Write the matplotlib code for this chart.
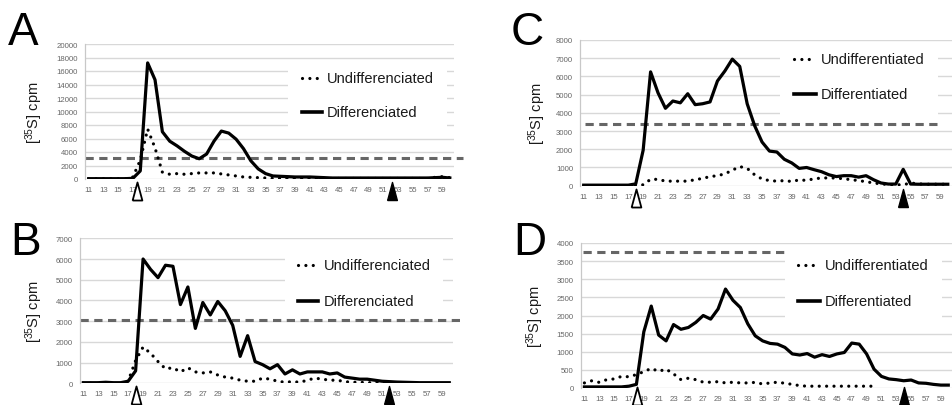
"""Four-panel [35S] cpm fraction profiles (A-D)."""

import matplotlib

matplotlib.use("Agg")
import matplotlib.pyplot as plt  # noqa: E402
from matplotlib.patches import Rectangle  # noqa: E402
from matplotlib.transforms import blended_transform_factory  # noqa: E402

plt.rcParams["font.family"] = ["Liberation Sans", "DejaVu Sans"]
plt.rcParams["mathtext.default"] = "regular"

# fraction numbers on the x axis
fractions = list(range(11, 61))
tick_fractions = list(range(11, 60, 2))

# panel A
a_diff = [50, 50, 50, 50, 50, 50, 100, 1200, 17200, 14700,
          7000, 5600, 4900, 4100, 3400, 3000, 3700, 5600, 7100, 6800,
          5900, 4500, 2700, 1500, 800, 450, 400, 350, 300, 300,
          300, 250, 200, 150, 150, 150, 150, 150, 150, 150,
          150, 150, 150, 150, 150, 150, 150, 200, 250, 150]
a_undiff = [30, 30, 30, 30, 30, 30, 300, 2800, 7400, 4600,
            1000, 700, 800, 700, 800, 900, 900, 900, 750, 600,
            450, 300, 250, 200, 150, 100, 80, 80, 80, 80,
            80, 80, 80, 80, 80, 80, 80, 80, 80, 80,
            80, 80, 80, 80, 80, 80, 80, 250, 350, 200]
a_cutoff = 3100

# panel B
b_diff = [30, 30, 30, 50, 30, 30, 100, 600, 6000, 5500,
          5100, 5700, 5650, 3800, 4650, 2650, 3900, 3300, 3950, 3500,
          2800, 1300, 2300, 1050, 900, 700, 900, 450, 650, 450,
          550, 550, 550, 450, 500, 300, 250, 200, 200, 150,
          100, 80, 60, 50, 40, 30, 30, 30, 30, 30]
b_undiff = [0, 0, 0, 0, 0, 0, 100, 1100, 1750, 1450,
            1050, 700, 750, 550, 750, 550, 500, 550, 400, 300,
            250, 150, 100, 100, 250, 200, 100, 50, 80, 50,
            150, 250, 200, 150, 150, 80, 50, 50, 30, 30,
            20, 10]
b_cutoff = 3050

# panel C
c_diff = [30, 30, 30, 30, 30, 30, 30, 100, 1950, 6250,
          5100, 4250, 4650, 4550, 5050, 4450, 4500, 4600, 5750, 6300,
          6950, 6550, 4500, 3300, 2400, 1900, 1850, 1450, 1250, 950,
          1000, 880, 770, 600, 500, 550, 550, 470, 550, 330,
          150, 90, 90, 900, 90, 80, 80, 80, 80, 80]
c_undiff = [0, 0, 0, 0, 0, 0, 0, 0, 50, 350,
            350, 250, 250, 250, 250, 330, 400, 500, 550, 650,
            850, 1050, 950, 600, 370, 280, 250, 280, 230, 320,
            290, 380, 420, 430, 420, 380, 330, 280, 220, 150,
            100, 60, 50, 50, 150, 100, 80, 80, 80, 80]
c_cutoff = 3400

# panel D
d_diff = [30, 30, 30, 30, 30, 30, 50, 100, 1550, 2260,
          1460, 1300, 1750, 1620, 1670, 1810, 2000, 1900, 2180, 2730,
          2420, 2220, 1770, 1440, 1300, 1230, 1210, 1120, 940, 910,
          950, 850, 920, 870, 940, 980, 1240, 1210, 940, 520,
          320, 250, 230, 200, 220, 140, 130, 100, 80, 80]
d_undiff = [140, 200, 155, 230, 250, 320, 310, 370, 450, 540,
            460, 520, 390, 230, 270, 230, 160, 160, 175, 140,
            160, 140, 140, 155, 110, 140, 160, 130, 100, 65,
            50, 50, 50, 50, 50, 50, 50, 50, 50, 50]
d_cutoff = 3740

labels_ac = ["Undifferenciated", "Differenciated"]
labels_cd = ["Undifferentiated", "Differentiated"]

W, H = 952, 406
TRI = [(-0.27, -0.5), (0.27, -0.5), (0.0, 0.5), (-0.27, -0.5)]
DOTS = (0, (0.01, 2.3))


def rect(left, top, right, bottom):
    return [left / W, 1 - bottom / H, (right - left) / W, (bottom - top) / H]


def draw_panel(ax, diff, undiff, cutoff, cut_span, ymax, ystep, labels, key,
               marks, ylabel_x):
    ax.plot(fractions[:len(diff)], diff, color="black", lw=2.3, zorder=4,
            solid_joinstyle="round")
    ax.plot(fractions[:len(undiff)], undiff, color="black", lw=2.3, zorder=5,
            linestyle=DOTS, dash_capstyle="round")
    ax.plot(cut_span, [cutoff, cutoff], color="#666666", lw=2.2,
            dashes=(2.7, 1.8), zorder=2, clip_on=False)

    ax.set_xlim(10.5, 60.5)
    ax.set_ylim(0, ymax)
    ax.set_xticks(tick_fractions, [str(f) for f in tick_fractions])
    ax.set_yticks(range(0, ymax + 1, ystep))
    ax.tick_params(length=0, labelsize=5.6, labelcolor="#666666")
    ax.tick_params(axis="x", pad=5)
    ax.tick_params(axis="y", pad=5)
    ax.grid(axis="y", color="#d8d8d8", lw=1.0, zorder=0)
    ax.set_axisbelow(True)
    for side in ("top", "right", "bottom"):
        ax.spines[side].set_visible(False)
    ax.spines["left"].set_color("#c8c8c8")
    ax.spines["left"].set_linewidth(0.9)
    ax.set_ylabel("[$^{35}$S] cpm", fontsize=10.5, color="#1a1a1a")
    ax.yaxis.set_label_coords(ylabel_x, 0.5)

    # key box with its two entries
    bx0, by0, bx1, by1 = key["box"]
    ax.add_patch(Rectangle((bx0, by0), bx1 - bx0, by1 - by0, transform=ax.transAxes,
                           facecolor="white", edgecolor="none", zorder=3))
    hx0, hx1, tx = key["hx0"], key["hx1"], key["tx"]
    y1, y2 = key["y"]
    ax.plot([hx0, hx1 - 0.004], [y1, y1], transform=ax.transAxes, color="black",
            lw=2.3, linestyle=DOTS, dash_capstyle="round", zorder=6)
    ax.plot([hx0, hx1], [y2, y2], transform=ax.transAxes, color="black",
            lw=2.6, zorder=6)
    for y, text in zip((y1, y2), labels):
        ax.text(tx, y, text, transform=ax.transAxes, fontsize=10.5,
                color="#1a1a1a", va="center", ha="left", zorder=6)

    # fraction markers below the axis
    trans = blended_transform_factory(ax.transData, ax.transAxes)
    h_px = ax.get_position().height * H
    y = -marks["drop"] / h_px
    ax.plot([marks["open"]], [y], transform=trans, marker=TRI, markersize=13,
            markerfacecolor="white", markeredgecolor="black", mew=1.3,
            linestyle="none", clip_on=False, zorder=7)
    ax.plot([marks["filled"]], [y], transform=trans, marker=TRI, markersize=13,
            markerfacecolor="black", markeredgecolor="black", mew=1.0,
            linestyle="none", clip_on=False, zorder=7)


fig = plt.figure(figsize=(W / 100, H / 100), dpi=100)
ax_a = fig.add_axes(rect(85, 45, 453.5, 180))
ax_b = fig.add_axes(rect(79.6, 239.3, 453, 384.3))
ax_c = fig.add_axes(rect(580, 41, 951.5, 186.7))
ax_d = fig.add_axes(rect(580.7, 244, 952, 389))

draw_panel(ax_a, a_diff, a_undiff, a_cutoff, [10.5, 61.8], 20000, 2000, labels_ac,
           {"box": (0.551, 0.356, 0.982, 0.867), "hx0": 0.589, "hx1": 0.643,
            "tx": 0.657, "y": (0.748, 0.496)},
           {"open": 17.6, "filled": 52.1, "drop": 11.5}, -0.108)
draw_panel(ax_b, b_diff, b_undiff, b_cutoff, [10.5, 61.5], 7000, 1000, labels_ac,
           {"box": (0.55, 0.50, 0.973, 0.92), "hx0": 0.585, "hx1": 0.638,
            "tx": 0.655, "y": (0.814, 0.566)},
           {"open": 18.0, "filled": 51.9, "drop": 11.5}, -0.093)
draw_panel(ax_c, c_diff, c_undiff, c_cutoff, [11.2, 59.1], 8000, 1000, labels_cd,
           {"box": (0.538, 0.45, 0.964, 0.95), "hx0": 0.576, "hx1": 0.635,
            "tx": 0.649, "y": (0.870, 0.629)},
           {"open": 18.1, "filled": 54.0, "drop": 12.5}, -0.086)
draw_panel(ax_d, d_diff, d_undiff, d_cutoff, [10.8, 59.0], 4000, 500, labels_cd,
           {"box": (0.55, 0.425, 0.973, 0.95), "hx0": 0.585, "hx1": 0.644,
            "tx": 0.658, "y": (0.846, 0.598)},
           {"open": 18.1, "filled": 54.0, "drop": 8.0}, -0.094)

for letter, x, base in (("A", 8, 45), ("B", 10, 255), ("C", 511, 45), ("D", 513, 255)):
    fig.text(x / W, 1 - base / H, letter, fontsize=33, va="baseline", ha="left",
             color="black")

fig.savefig("out.png", dpi=100)
